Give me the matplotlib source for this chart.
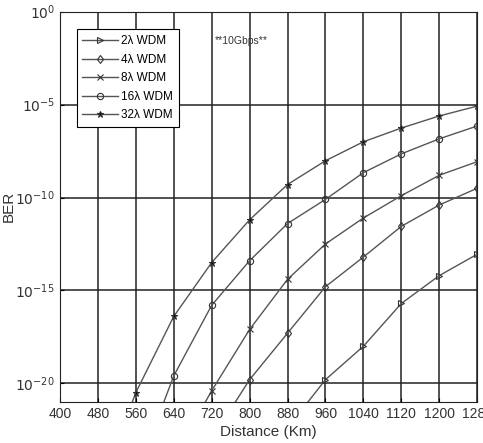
import matplotlib
matplotlib.use("Agg")
import matplotlib.pyplot as plt

plt.rcParams['font.family'] = ['Liberation Sans', 'DejaVu Sans']

# distances (km) and log10(BER) for each WDM case
dist_2 = [880, 960, 1040, 1120, 1200, 1280]
ber_2 = [-22.4, -19.8, -18.0, -15.7, -14.2, -13.05]

dist_4 = [720, 800, 880, 960, 1040, 1120, 1200, 1280]
ber_4 = [-23.0, -19.8, -17.3, -14.8, -13.2, -11.55, -10.4, -9.5]

dist_8 = [640, 720, 800, 880, 960, 1040, 1120, 1200, 1280]
ber_8 = [-24.0, -20.4, -17.1, -14.4, -12.5, -11.1, -9.9, -8.8, -8.07]

dist_16 = [560, 640, 720, 800, 880, 960, 1040, 1120, 1200, 1280]
ber_16 = [-25.0, -19.6, -15.8, -13.4, -11.4, -10.1, -8.66, -7.65, -6.84, -6.15]

dist_32 = [480, 560, 640, 720, 800, 880, 960, 1040, 1120, 1200, 1280]
ber_32 = [-26.0, -20.5, -16.4, -13.5, -11.2, -9.3, -8.02, -7.0, -6.26, -5.61, -5.08]

xticks = [400, 480, 560, 640, 720, 800, 880, 960, 1040, 1120, 1200, 1280]
yticks = [0, -5, -10, -15, -20]

fig = plt.figure(figsize=(4.83, 4.43), dpi=100)
ax = fig.add_axes([0.124, 0.0926, 0.864, 0.881])

lc = '#555555'
series = [
    (dist_2, ber_2, '>', 'none', u'2\u03bb WDM'),
    (dist_4, ber_4, 'd', 'none', u'4\u03bb WDM'),
    (dist_8, ber_8, 'x', lc, u'8\u03bb WDM'),
    (dist_16, ber_16, 'o', 'none', u'16\u03bb WDM'),
    (dist_32, ber_32, '*', 'k', u'32\u03bb WDM'),
]
for d, b, m, fc, lab in series:
    ax.semilogy(d, [10.0 ** v for v in b], color=lc, lw=1.0, marker=m,
                markersize=4.5, markerfacecolor=fc, markeredgecolor='#333333',
                markeredgewidth=0.8, label=lab)

ax.set_xlim(400, 1280)
ax.set_ylim(1e-21, 1e0)
ax.set_xticks(xticks)
ax.set_xticklabels([str(t) for t in xticks], fontsize=10, color='#333333')
ax.set_yticks([10.0 ** t for t in yticks])
ax.set_yticklabels([r'$10^{%d}$' % t for t in yticks], fontsize=10, color='#333333')
ax.minorticks_off()
ax.tick_params(direction='in', length=3, color='k')
ax.grid(True, color='#222222', lw=1.1)
for s in ax.spines.values():
    s.set_color('#222222')

ax.set_xlabel('Distance (Km)', fontsize=11, color='#333333', labelpad=3)
ax.set_ylabel('BER', fontsize=11, color='#333333', labelpad=0)

leg = ax.legend(loc='upper left', bbox_to_anchor=(0.04, 0.955), fontsize=8.5,
                fancybox=False, framealpha=1, edgecolor='k', handlelength=3.0,
                handletextpad=0.3, borderpad=0.5, labelspacing=0.55,
                borderaxespad=0)
leg.get_frame().set_linewidth(0.8)

ax.text(0.37, 0.925, '**10Gbps**', transform=ax.transAxes, fontsize=7.5,
        color='#333333', ha='left', va='center')

fig.savefig('out.png', dpi=100)
